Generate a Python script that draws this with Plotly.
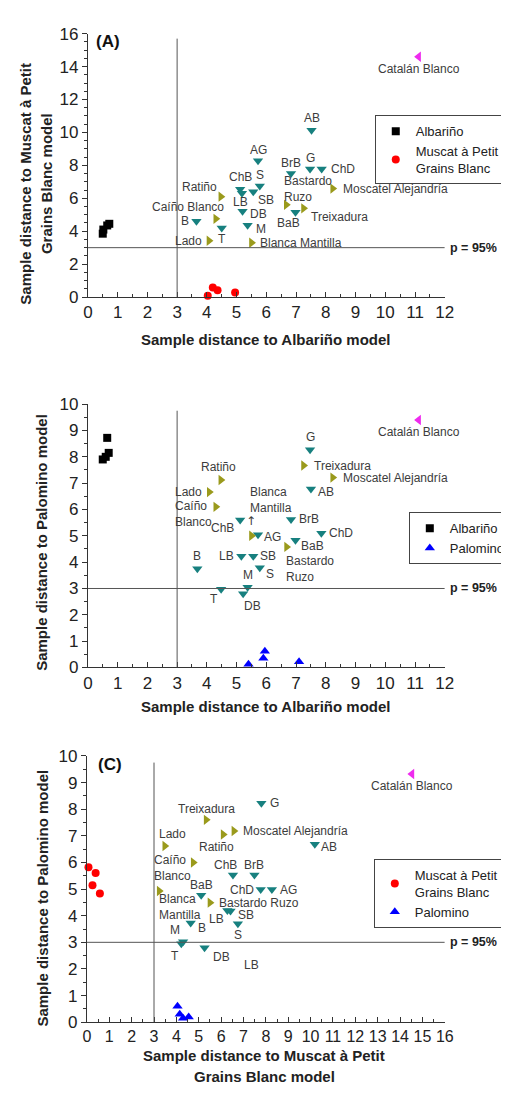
import plotly.graph_objects as go

# ---------------- Panel A: distance to Albariño model (x) vs Muscat à Petit Grains Blanc model (y)
A_alb_x = [0.50, 0.52, 0.65, 0.72]
A_alb_y = [3.85, 4.10, 4.35, 4.45]
A_mus_x = [4.03, 4.20, 4.36, 4.95]
A_mus_y = [0.08, 0.58, 0.42, 0.27]
A_cat_x = [11.12]
A_cat_y = [14.6]
A_olive_names = ["Ratiño", "Caíño Blanco", "Lado", "Blanca Mantilla", "Bastardo Ruzo", "Treixadura", "Moscatel Alejandría"]
A_olive_x = [4.47, 4.30, 4.07, 5.50, 6.67, 7.25, 8.23]
A_olive_y = [6.10, 4.75, 3.42, 3.30, 5.60, 5.39, 6.59]
A_teal_names = ["B", "T", "ChB", "LB", "S", "SB", "AG", "DB", "M", "BrB", "G", "ChD", "AB", "BaB"]
A_teal_x = [3.65, 4.50, 5.12, 5.18, 5.78, 5.56, 5.72, 5.20, 5.37, 6.83, 7.47, 7.86, 7.52, 6.98]
A_teal_y = [4.60, 4.20, 6.55, 6.30, 6.75, 6.39, 8.28, 5.22, 4.36, 7.50, 7.78, 7.78, 10.13, 5.15]

# ---------------- Panel B: distance to Albariño model (x) vs Palomino model (y)
B_alb_x = [0.50, 0.60, 0.70, 0.65]
B_alb_y = [7.90, 8.00, 8.15, 8.72]
B_pal_x = [5.40, 5.90, 5.95, 7.10]
B_pal_y = [0.12, 0.35, 0.62, 0.22]
B_cat_x = [11.12]
B_cat_y = [9.40]
B_olive_names = ["Ratiño", "Lado", "Caíño Blanco", "Blanca Mantilla", "Bastardo Ruzo", "Treixadura", "Moscatel Alejandría"]
B_olive_x = [4.47, 4.08, 4.30, 5.50, 6.68, 7.25, 8.23]
B_olive_y = [7.12, 6.66, 6.10, 5.00, 4.58, 7.67, 7.21]
B_teal_names = ["B", "T", "ChB", "LB", "S", "SB", "AG", "DB", "M", "BrB", "G", "ChD", "AB", "BaB"]
B_teal_x = [3.68, 4.48, 5.12, 5.16, 5.78, 5.56, 5.72, 5.22, 5.37, 6.83, 7.47, 7.85, 7.50, 6.98]
B_teal_y = [3.75, 2.97, 5.60, 4.22, 3.79, 4.22, 5.04, 2.80, 3.05, 5.62, 8.27, 5.10, 6.78, 4.83]

# ---------------- Panel C: distance to Muscat à Petit Grains Blanc model (x) vs Palomino model (y)
C_mus_x = [0.07, 0.39, 0.25, 0.58]
C_mus_y = [5.82, 5.60, 5.14, 4.83]
C_pal_x = [4.05, 4.15, 4.30, 4.55]
C_pal_y = [0.60, 0.30, 0.15, 0.20]
C_cat_x = [14.53]
C_cat_y = [9.32]
C_olive_names = ["Treixadura", "Ratiño", "Moscatel Alejandría", "Lado", "Caíño Blanco", "Blanca Mantilla", "Bastardo Ruzo"]
C_olive_x = [5.33, 6.09, 6.57, 3.48, 4.75, 3.23, 5.50]
C_olive_y = [7.60, 7.05, 7.18, 6.62, 6.00, 4.93, 4.49]
C_teal_names = ["G", "AB", "ChB", "BrB", "ChD", "AG", "BaB", "LB", "SB", "S", "B", "M", "T", "DB"]
C_teal_x = [7.80, 10.19, 6.53, 7.49, 7.77, 8.27, 5.11, 6.28, 6.42, 6.75, 4.64, 4.30, 4.22, 5.26]
C_teal_y = [8.22, 6.68, 5.53, 5.53, 4.98, 4.98, 4.77, 4.20, 4.18, 3.70, 3.73, 3.02, 2.95, 2.80]
C_extra_names = ["LB"]
C_extra_x = [7.36]
C_extra_y = [2.13]

P95 = 3  # p = 95% threshold

# ---------------- styles
FONT = "Liberation Sans, Arial, sans-serif"
TEAL = "#17807f"
OLIVE = "#9a9a1c"
MAGENTA = "#ee2bee"
LABEL_FONT = dict(family=FONT, size=12, color="#3c3c3c")
LINE_COLOR = "#555555"

# label placement: name -> (xshift px, yshift px, xanchor[, display text])
PLACE_A = {
    "Ratiño": (-2, 10, "right"), "Caíño Blanco": (10, 12, "right"), "Lado": (-5, 0, "right"),
    "Blanca Mantilla": (7, 0, "left"), "Bastardo Ruzo": (-4, 16, "left", "Bastardo<br>Ruzo"),
    "Treixadura": (5, -9, "left"), "Moscatel Alejandría": (8, 0, "left"),
    "B": (-5, 0, "right"), "T": (0, -11, "center"), "ChB": (0, 12, "center"), "LB": (-1, -9, "center"),
    "S": (0, 11, "center"), "SB": (3, -8, "left"), "AG": (0, 11, "center"), "DB": (5, -3, "left"),
    "M": (6, -4, "left"), "BrB": (0, 11, "center"), "G": (0, 11, "center"), "ChD": (7, 0, "left"),
    "AB": (0, 12, "center"), "BaB": (-7, -11, "center"), "Catalán Blanco": (0, -12, "center"),
}
PLACE_B = {
    "Ratiño": (-2, 13, "center"), "Lado": (-5, 0, "right"), "Caíño Blanco": (-2, -7, "right", "Caíño<br>Blanco"),
    "Blanca Mantilla": (-3, 36, "left", "Blanca<br>Mantilla"), "Bastardo Ruzo": (-3, -22, "left", "Bastardo<br>Ruzo"),
    "Treixadura": (8, 0, "left"), "Moscatel Alejandría": (8, 0, "left"),
    "B": (0, 13, "center"), "T": (-7, -10, "center"), "ChB": (-4, -8, "right"), "LB": (-5, 0, "right"),
    "S": (4, -6, "left"), "SB": (5, 0, "left"), "AG": (4, -2, "left"), "DB": (9, -12, "center"),
    "M": (0, 12, "center"), "BrB": (6, 0, "left"), "G": (0, 13, "center"), "ChD": (6, 0, "left"),
    "AB": (5, -3, "left"), "BaB": (4, -6, "left"), "Catalán Blanco": (0, -12, "center"),
}
PLACE_C = {
    "Treixadura": (0, 11, "center"), "Ratiño": (-7, -13, "center"), "Moscatel Alejandría": (7, 0, "left"),
    "Lado": (8, 12, "center"), "Caíño Blanco": (0, -6, "right", "Caíño<br>Blanco"),
    "Blanca Mantilla": (-2, -16, "left", "Blanca<br>Mantilla"), "Bastardo Ruzo": (7, 0, "left"),
    "G": (7, 0, "left"), "AB": (4, -3, "left"), "ChB": (-7, 10, "center"), "BrB": (0, 10, "center"),
    "ChD": (-5, 0, "right"), "AG": (6, 0, "left"), "BaB": (0, 10, "center"), "LB": (-11, -9, "center"),
    "SB": (5, -4, "left"), "S": (0, -11, "center"), "B": (5, -5, "left"), "M": (-8, 12, "center"),
    "T": (-6, -12, "center"), "DB": (6, -9, "left"), "Catalán Blanco": (0, -12, "center"),
}

W, H = 509, 1093
OFF = 8  # default page body margin of the written html
def px_x(p):
    return (p - OFF) / W
def px_y(p):
    return 1 - (p - OFF) / H

fig = go.Figure()

def marker_trace(xs, ys, symbol, color, size, xa, ya, name=None, legend=None):
    fig.add_trace(go.Scatter(
        x=xs, y=ys, mode="markers", xaxis=xa, yaxis=ya, cliponaxis=False,
        marker=dict(symbol=symbol, color=color, size=size, line=dict(width=0)),
        name=name or "", showlegend=legend is not None, legend=legend or "legend",
        hoverinfo="skip"))

def add_labels(names, xs, ys, place, xa, ya):
    for n, x, y in zip(names, xs, ys):
        spec = place[n]
        dx, dy, anc = spec[:3]
        text = spec[3] if len(spec) > 3 else n
        fig.add_annotation(x=x, y=y, xref=xa, yref=ya, text=text, showarrow=False,
                           xanchor=anc, yanchor="middle", xshift=dx, yshift=dy,
                           align="left", font=LABEL_FONT)

# Panel A
marker_trace(A_teal_x, A_teal_y, "triangle-down", TEAL, 9, "x", "y")
marker_trace(A_olive_x, A_olive_y, "triangle-right", OLIVE, 9, "x", "y")
marker_trace(A_cat_x, A_cat_y, "triangle-left", MAGENTA, 9, "x", "y")
marker_trace(A_alb_x, A_alb_y, "square", "black", 8, "x", "y", "Albariño", "legend")
marker_trace(A_mus_x, A_mus_y, "circle", "#ff0000", 8, "x", "y", "Muscat à Petit<br>Grains Blanc", "legend")
add_labels(A_teal_names, A_teal_x, A_teal_y, PLACE_A, "x", "y")
add_labels(A_olive_names, A_olive_x, A_olive_y, PLACE_A, "x", "y")
add_labels(["Catalán Blanco"], A_cat_x, A_cat_y, PLACE_A, "x", "y")

# Panel B
marker_trace(B_teal_x, B_teal_y, "triangle-down", TEAL, 9, "x2", "y2")
marker_trace(B_olive_x, B_olive_y, "triangle-right", OLIVE, 9, "x2", "y2")
marker_trace(B_cat_x, B_cat_y, "triangle-left", MAGENTA, 9, "x2", "y2")
marker_trace(B_alb_x, B_alb_y, "square", "black", 8, "x2", "y2", "Albariño", "legend2")
marker_trace(B_pal_x, B_pal_y, "triangle-up", "#0000ff", 9, "x2", "y2", "Palomino", "legend2")
add_labels(B_teal_names, B_teal_x, B_teal_y, PLACE_B, "x2", "y2")
add_labels(B_olive_names, B_olive_x, B_olive_y, PLACE_B, "x2", "y2")
add_labels(["Catalán Blanco"], B_cat_x, B_cat_y, PLACE_B, "x2", "y2")
bm = B_olive_names.index("Blanca Mantilla")
fig.add_annotation(x=B_olive_x[bm], y=B_olive_y[bm], xref="x2", yref="y2", text="↑",
                   showarrow=False, yshift=15, font=dict(family="DejaVu Sans", size=12, color="#3c3c3c"))

# Panel C
marker_trace(C_teal_x, C_teal_y, "triangle-down", TEAL, 9, "x3", "y3")
marker_trace(C_olive_x, C_olive_y, "triangle-right", OLIVE, 9, "x3", "y3")
marker_trace(C_cat_x, C_cat_y, "triangle-left", MAGENTA, 9, "x3", "y3")
marker_trace(C_mus_x, C_mus_y, "circle", "#ff0000", 8, "x3", "y3", "Muscat à Petit<br>Grains Blanc", "legend3")
marker_trace(C_pal_x, C_pal_y, "triangle-up", "#0000ff", 9, "x3", "y3", "Palomino", "legend3")
add_labels(C_teal_names, C_teal_x, C_teal_y, PLACE_C, "x3", "y3")
add_labels(C_olive_names, C_olive_x, C_olive_y, PLACE_C, "x3", "y3")
add_labels(["Catalán Blanco"], C_cat_x, C_cat_y, PLACE_C, "x3", "y3")
for n, x, y in zip(C_extra_names, C_extra_x, C_extra_y):
    fig.add_annotation(x=x, y=y, xref="x3", yref="y3", text=n, showarrow=False, font=LABEL_FONT)

# axes
def axis(domain, rng, dtick, minor, anchor, tickdir, fsize=17):
    return dict(domain=domain, range=rng, dtick=dtick, tick0=0, anchor=anchor,
                showline=True, linecolor="#333333", linewidth=1, showgrid=False, zeroline=False,
                ticks=tickdir, ticklen=5, tickwidth=1, tickcolor="#333333",
                tickfont=dict(family=FONT, size=fsize, color="#222222"),
                minor=dict(dtick=minor, ticks=tickdir, ticklen=3, tickcolor="#333333", showgrid=False),
                fixedrange=True)

XD = [px_x(85), px_x(452)]
fig.update_layout(
    xaxis=axis(XD, [0, 12], 1, 0.5, "y", "inside"),
    yaxis=axis([px_y(293), px_y(25)], [0, 16], 2, 0.5, "x", "outside"),
    xaxis2=axis(XD, [0, 12], 1, 0.5, "y2", "inside"),
    yaxis2=axis([px_y(670), px_y(402)], [0, 10], 1, 0.5, "x2", "outside"),
    xaxis3=axis([px_x(84), px_x(452)], [0, 16], 1, 0.5, "y3", "inside", 16),
    yaxis3=axis([px_y(1031), px_y(760)], [0, 10], 1, 0.5, "x3", "outside"),
)

# p = 95% threshold lines and labels
PFONT = dict(family=FONT, size=12.5, color="#222222")
for xa, ya, xmax, vtop, ptext_y in [("x", "y", 12, 15.7, 16.26), ("x2", "y2", 12, 9.75, 10.05), ("x3", "y3", 16, 9.75, 10.12)]:
    fig.add_shape(type="line", xref=xa, yref=ya, x0=P95, x1=P95, y0=0, y1=vtop, line=dict(color=LINE_COLOR, width=1))
    fig.add_shape(type="line", xref=xa, yref=ya, x0=0, x1=xmax, y0=P95, y1=P95, line=dict(color=LINE_COLOR, width=1))
    fig.add_annotation(x=P95, y=ptext_y, xref=xa, yref=ya, text="<b>p = 95%</b>", showarrow=False,
                       xanchor="center", yanchor="middle", font=PFONT)
    fig.add_annotation(x=xmax, y=P95, xref=xa, yref=ya, text="<b>p = 95%</b>", showarrow=False,
                       xanchor="left", yanchor="middle", xshift=3, font=PFONT)

# panel letters
LFONT = dict(family=FONT, size=17, color="#111111")
for xa, ya, x, y, t in [("x", "y", 0.22, 15.5, "(A)"), ("x2", "y2", 0.33, 10.14, "(B)"), ("x3", "y3", 0.4, 9.69, "(C)")]:
    fig.add_annotation(x=x, y=y, xref=xa, yref=ya, text="<b>%s</b>" % t, showarrow=False,
                       xanchor="left", yanchor="middle", font=LFONT)

# axis titles
TFONT = dict(family=FONT, size=15, color="#222222")
def title(text, xp, yp, angle=0):
    fig.add_annotation(x=px_x(xp), y=px_y(yp), xref="paper", yref="paper", text="<b>%s</b>" % text,
                       showarrow=False, textangle=angle, xanchor="center", yanchor="middle", font=TFONT)

title("Sample distance to Albariño model", 268, 336)
title("Sample distance to Muscat à Petit", 20, 178, -90)
title("Grains Blanc model", 42, 178, -90)
title("Sample distance to Albariño model", 268, 710)
title("Sample distance to Palomino model", 38, 543, -90)
title("Sample distance to Muscat à Petit", 266, 1065)
title("Grains Blanc model", 267, 1086)
title("Sample distance to Palomino model", 38, 905, -90)

LEG = dict(font=dict(family=FONT, size=13, color="#222222"), bordercolor="#444444", borderwidth=1,
           bgcolor="white", xanchor="left", yanchor="top", tracegroupgap=0)
fig.update_layout(
    width=W, height=H, margin=dict(l=0, r=0, t=0, b=0),
    plot_bgcolor="white", paper_bgcolor="white", showlegend=True,
    legend=dict(LEG, x=px_x(380), y=px_y(108)),
    legend2=dict(LEG, x=px_x(415), y=px_y(512)),
    legend3=dict(LEG, x=px_x(379), y=px_y(865)),
)

fig.write_html("out.html")
